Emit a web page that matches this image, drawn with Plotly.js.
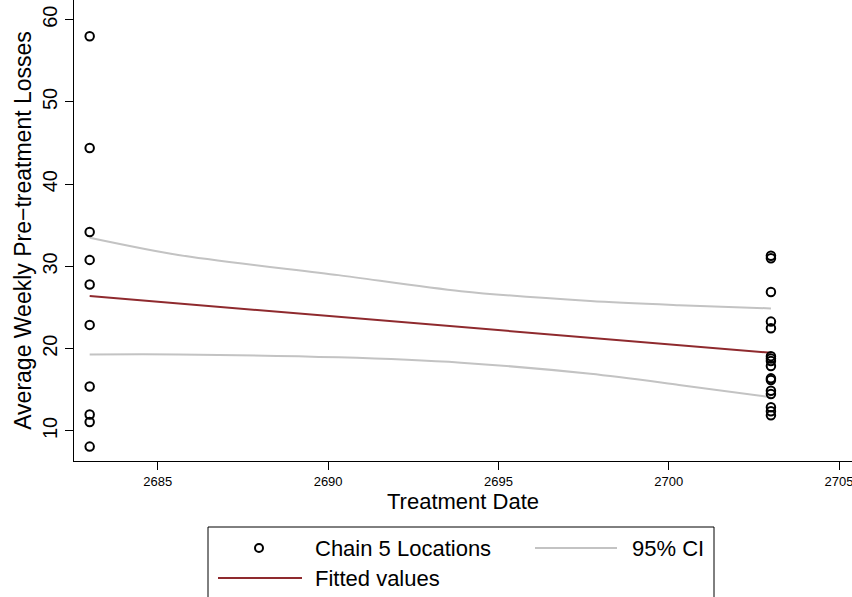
<!DOCTYPE html>
<html>
<head>
<meta charset="utf-8">
<script src="https://cdn.plot.ly/plotly-3.0.1.min.js"></script>
<style>html,body{margin:0;padding:0;background:#fff;}#chart{width:852px;height:597px;}</style>
</head>
<body>
<div id="chart"></div>
<script>
// Scatter: Chain 5 Locations
const treatDate = [2683,2683,2683,2683,2683,2683,2683,2683,2683,2683,
                   2703,2703,2703,2703,2703,2703,2703,2703,2703,2703,2703,2703,2703,2703,2703,2703];
const losses = [58.0,44.4,34.2,30.8,27.8,22.9,15.4,12.0,11.1,8.1,
                31.3,31.0,26.9,23.3,22.5,19.1,18.8,18.5,17.9,16.4,16.2,14.9,14.5,12.9,12.4,11.9];

// Fitted values
const fitX = [2683, 2703];
const fitY = [26.4, 19.5];

// 95% CI
const ciX = [2683, 2685.6, 2690.3, 2693.9, 2697.7, 2700.3, 2703];
const ciUpper = [33.5, 31.4, 28.95, 27.0, 25.8, 25.3, 24.9];
const ciLower = [19.3, 19.3, 18.95, 18.3, 16.95, 15.6, 14.1];

// Labels
const legendLabels = ["Chain 5 Locations", "95% CI", "Fitted values"];
const xTicks = [2685, 2690, 2695, 2700, 2705];
const yTicks = [10, 20, 30, 40, 50, 60];

const FONT = '"Liberation Sans", Arial, Helvetica, sans-serif';
const ciColor = '#c3c3c3';
const fitColor = '#8f2a2e';

const traces = [
  {x: ciX, y: ciUpper, type: 'scatter', mode: 'lines', line: {color: ciColor, width: 2, shape: 'spline', smoothing: 0.8}, name: legendLabels[1], showlegend: false, hoverinfo: 'skip'},
  {x: ciX, y: ciLower, type: 'scatter', mode: 'lines', line: {color: ciColor, width: 2, shape: 'spline', smoothing: 0.8}, name: legendLabels[1], showlegend: false, hoverinfo: 'skip'},
  {x: fitX, y: fitY, type: 'scatter', mode: 'lines', line: {color: fitColor, width: 2}, name: legendLabels[2], showlegend: false},
  {x: treatDate, y: losses, type: 'scatter', mode: 'markers', name: legendLabels[0], showlegend: false,
   marker: {symbol: 'circle-open', size: 8.5, color: '#000', line: {width: 2, color: '#000'}}}
];

// plot area: x 74..852 (778 px), y 0..461 (461 px)
const W = 778, H = 461, L = 74;
const px = v => (v - L) / W;
const py = v => (H - v) / H;

const shapes = [
  {type: 'rect', xref: 'paper', yref: 'paper', x0: px(208), x1: px(714), y0: py(527), y1: py(640), line: {color: '#000', width: 1}, fillcolor: 'rgba(0,0,0,0)'},
  {type: 'circle', xref: 'paper', yref: 'paper', x0: px(255), x1: px(263), y0: py(544), y1: py(552), line: {color: '#000', width: 2}},
  {type: 'line', xref: 'paper', yref: 'paper', x0: px(535), x1: px(617), y0: py(548), y1: py(548), line: {color: ciColor, width: 2}},
  {type: 'line', xref: 'paper', yref: 'paper', x0: px(218), x1: px(302), y0: py(578), y1: py(578), line: {color: fitColor, width: 2}}
];

const annotations = [
  {xref: 'paper', yref: 'paper', x: px(313), y: py(548), xanchor: 'left', yanchor: 'middle', text: legendLabels[0], showarrow: false, font: {family: FONT, size: 22, color: '#000'}},
  {xref: 'paper', yref: 'paper', x: px(630), y: py(548), xanchor: 'left', yanchor: 'middle', text: legendLabels[1], showarrow: false, font: {family: FONT, size: 22, color: '#000'}},
  {xref: 'paper', yref: 'paper', x: px(313), y: py(578), xanchor: 'left', yanchor: 'middle', text: legendLabels[2], showarrow: false, font: {family: FONT, size: 22, color: '#000'}}
];

const layout = {
  width: 852, height: 597,
  margin: {l: 74, r: 0, t: 0, b: 136, pad: 0},
  paper_bgcolor: '#fff', plot_bgcolor: '#fff',
  showlegend: false,
  font: {family: FONT, color: '#000'},
  xaxis: {
    range: [2682.54, 2705.38], tickvals: xTicks, ticktext: xTicks.map(String),
    showline: true, linecolor: '#000', linewidth: 1, ticks: 'outside', ticklen: 8, tickcolor: '#000',
    showgrid: false, zeroline: false, tickfont: {size: 13, family: FONT}, ticklabeloverflow: 'allow',
    title: {text: 'Treatment Date', font: {size: 22, family: FONT}, standoff: 1}
  },
  yaxis: {
    range: [6.35, 62.4], tickvals: yTicks, ticktext: yTicks.map(String),
    showline: true, linecolor: '#000', linewidth: 1, ticks: 'outside', ticklen: 8, tickcolor: '#000',
    showgrid: false, zeroline: false, tickangle: -90, tickfont: {size: 20, family: FONT},
    title: {text: 'Average Weekly Pre\u2212treatment Losses', font: {size: 23, family: FONT}, standoff: 0}
  },
  shapes: shapes,
  annotations: annotations
};

Plotly.newPlot('chart', traces, layout, {staticPlot: true, displayModeBar: false});
</script>
</body>
</html>
